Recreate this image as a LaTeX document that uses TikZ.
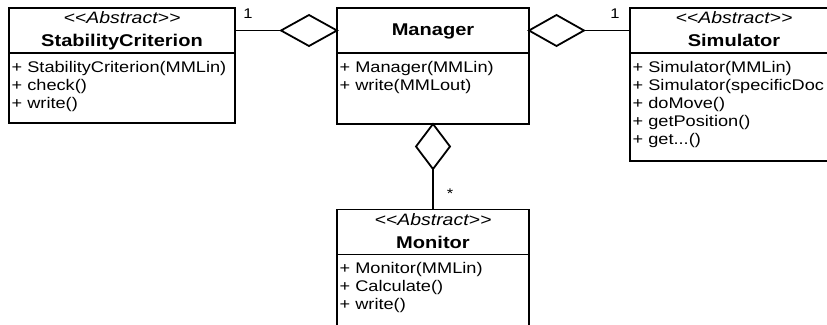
\documentclass[tikz,border=0pt]{standalone}
\usepackage{fontspec}
\setmainfont{Liberation Sans}[FakeStretch=1.18]
\usetikzlibrary{shapes.geometric}

\newcommand{\hdstrut}{\rule[-4pt]{0pt}{17pt}}
\newcommand{\stereo}{{\fontsize{16.5}{23}\selectfont\mdseries\itshape <{}<Abstract>{}>}}

\tikzset{
  uml/.style={line width=1.8pt},
  classhead/.style={draw, uml, inner sep=0pt, outer sep=0pt, align=center,
    minimum height=45pt, font=\fontsize{17}{23}\selectfont\bfseries},
  classbody/.style={draw, uml, inner sep=0pt, outer sep=0pt},
  members/.style={anchor=north west, inner xsep=2.5pt, inner ysep=6.4pt,
    align=left, font=\fontsize{15.4}{18}\selectfont},
  aggr/.style={diamond, draw, uml, fill=white, inner sep=0pt, outer sep=0pt},
  mult/.style={inner sep=1pt, font=\fontsize{14}{14}\selectfont},
}

\begin{document}
\begin{tikzpicture}[x=1pt, y=-1pt]
\clip (0,0) rectangle (827,324);

% classes: head, body, member list
\node[classhead, minimum width=226pt] (schead) at (122,30.5) {\stereo\hdstrut\\StabilityCriterion\hdstrut};
\node[classbody, minimum width=226pt, minimum height=70pt, anchor=north] (scbody) at (schead.south) {};
\node[members] (scops) at (scbody.north west) {\strut+ StabilityCriterion(MMLin)\\+ check()\\+ write()};

\node[classhead, minimum width=192pt] (mgrhead) at (433,30.5) {Manager\hdstrut};
\node[classbody, minimum width=192pt, minimum height=71pt, anchor=north] (mgrbody) at (mgrhead.south) {};
\node[members] (mgrops) at (mgrbody.north west) {\strut+ Manager(MMLin)\\+ write(MMLout)};

\node[classhead, minimum width=208pt] (simhead) at (734,30.5) {\stereo\hdstrut\\Simulator\hdstrut};
\node[classbody, minimum width=208pt, minimum height=108pt, anchor=north] (simbody) at (simhead.south) {};
\node[members] (simops) at (simbody.north west) {\strut+ Simulator(MMLin)\\+ Simulator(specificDoc\\+ doMove()\\+ getPosition()\\+ get...()};

\node[classhead, minimum width=192pt] (monhead) at (433,232) {\stereo\hdstrut\\Monitor\hdstrut};
\node[classbody, minimum width=192pt, minimum height=90pt, anchor=north] (monbody) at (monhead.south) {};
\node[members] (monops) at (monbody.north west) {\strut+ Monitor(MMLin)\\+ Calculate()\\+ write()};

% aggregations
\node[aggr, minimum width=56pt, minimum height=31pt, anchor=east] (dl) at (mgrhead.west) {};
\node[aggr, minimum width=55pt, minimum height=31pt, anchor=west] (dr) at (mgrhead.east) {};
\node[aggr, minimum width=34pt, minimum height=45pt, anchor=north] (db) at (mgrbody.south) {};

\draw[uml] (schead.east) -- (dl.west);
\draw[uml] (dr.east) -- (simhead.west);
\draw[uml] (db.south) -- (monhead.north);

% multiplicities
\node[mult] (m1) at (248,14) {1};
\node[mult] (m2) at (615,14) {1};
\node[mult] (m3) at (450,194) {*};
\end{tikzpicture}
\end{document}
